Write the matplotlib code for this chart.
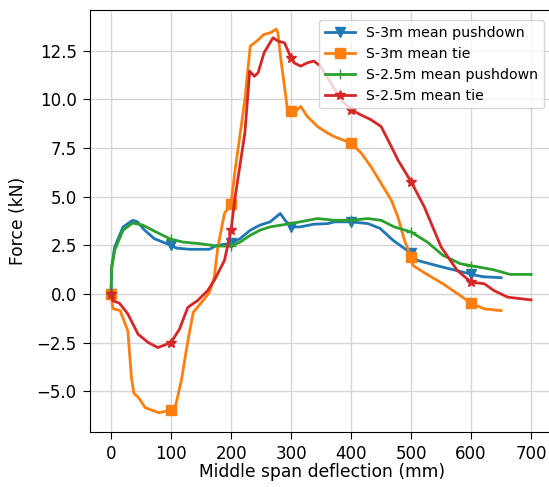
import matplotlib.pyplot as plt
import numpy as np

# S-3m mean pushdown
push3_x = [0, 1, 6, 20, 36, 44, 56, 72, 100, 109, 131, 164, 176, 190, 200, 215, 232, 248, 265,
           282, 290, 300, 315, 338, 361, 372, 400, 428, 448, 470, 493, 500, 510, 553, 598, 600, 620, 650]
push3_y = [0.0, 1.37, 2.4, 3.44, 3.78, 3.7, 3.27, 2.84, 2.49, 2.35, 2.29, 2.29, 2.49, 2.55, 2.6, 2.84,
           3.27, 3.53, 3.7, 4.13, 3.78, 3.44, 3.44, 3.58, 3.61, 3.7, 3.7, 3.61, 3.37, 2.75, 2.24, 2.1,
           1.72, 1.37, 1.03, 1.0, 0.88, 0.83]

# S-3m mean tie
tie3_x = [0, 3, 15, 28, 34, 38, 46, 57, 80, 100, 108, 117, 128, 137, 151, 164, 172, 178, 189, 200,
          206, 223, 232, 243, 255, 266, 275, 278, 283, 289, 294, 300, 305, 316, 327, 344, 361, 372,
          400, 417, 433, 450, 467, 478, 489, 500, 503, 525, 553, 582, 600, 622, 650]
tie3_y = [0.0, -0.76, -0.85, -1.9, -4.3, -5.1, -5.34, -5.85, -6.11, -5.96, -5.68, -4.48, -2.41, -0.95,
          -0.43, 0.08, 0.86, 2.41, 4.13, 4.61, 6.19, 9.98, 12.73, 12.99, 13.33, 13.42, 13.6, 13.42,
          12.04, 10.67, 9.46, 9.4, 9.3, 9.63, 9.12, 8.6, 8.26, 8.08, 7.74, 7.23, 6.54, 5.68, 4.82,
          3.95, 2.75, 1.89, 1.46, 1.03, 0.52, -0.09, -0.48, -0.77, -0.86]

# S-2.5m mean pushdown
push25_x = [0, 1, 6, 20, 36, 53, 75, 100, 120, 148, 176, 200, 215, 232, 248, 265, 298, 315, 344,
            372, 400, 428, 450, 472, 500, 527, 553, 582, 600, 637, 665, 700]
push25_y = [0.0, 1.3, 2.24, 3.27, 3.64, 3.53, 3.18, 2.8, 2.66, 2.58, 2.46, 2.45, 2.66, 3.01, 3.27,
            3.44, 3.61, 3.7, 3.87, 3.78, 3.78, 3.87, 3.78, 3.44, 3.18, 2.66, 1.98, 1.55, 1.45, 1.24,
            1.0, 1.0]

# S-2.5m mean tie
tie25_x = [0, 3, 14, 28, 45, 62, 78, 100, 114, 128, 144, 161, 172, 189, 200, 206, 223, 231, 239,
           245, 255, 270, 278, 289, 300, 305, 316, 327, 338, 349, 366, 383, 400, 416, 433, 450, 467,
           478, 500, 522, 550, 577, 600, 622, 638, 661, 700]
tie25_y = [0.0, -0.35, -0.48, -1.03, -2.07, -2.5, -2.76, -2.5, -1.81, -0.69, -0.35, 0.17, 0.69, 1.72,
           3.27, 4.82, 8.26, 11.44, 11.18, 11.36, 12.39, 13.16, 12.99, 12.9, 12.13, 11.87, 11.7,
           11.87, 11.96, 11.7, 10.84, 9.98, 9.46, 9.2, 8.95, 8.6, 7.57, 6.88, 5.76, 4.47, 2.41, 1.2,
           0.6, 0.52, 0.17, -0.17, -0.31]

series = [
    (push3_x, push3_y, "v", "S-3m mean pushdown"),
    (tie3_x, tie3_y, "s", "S-3m mean tie"),
    (push25_x, push25_y, "+", "S-2.5m mean pushdown"),
    (tie25_x, tie25_y, "*", "S-2.5m mean tie"),
]

plt.rcParams["font.size"] = 12
plt.rcParams["xtick.major.size"] = 5
plt.rcParams["ytick.major.size"] = 5
plt.rcParams["xtick.major.pad"] = 4.5
plt.rcParams["ytick.major.pad"] = 4.5

fig = plt.figure(figsize=(5.49, 4.87), dpi=100)
ax = fig.add_axes([0.164, 0.113, 0.845, 0.8665])

for xs, ys, marker, label in series:
    # one marker per 100 mm, up to 600 mm
    marks = [i for i, x in enumerate(xs) if x % 100 == 0 and x <= 600]
    ax.plot(xs, ys, marker=marker, markevery=marks, markersize=7, linewidth=2, label=label)

ax.set_xlim(-35, 738)
ax.set_xticks(np.arange(0, 701, 100))
ax.grid(True, color="#d5d5d5", linewidth=1)
ax.set_xlabel("Middle span deflection (mm)", fontsize=12.3, labelpad=0)
ax.set_ylabel("Force (kN)", fontsize=12.3, labelpad=7)
ax.legend(loc="upper right", fontsize=10.2, handlelength=2.1, borderaxespad=0.7)

fig.savefig("out.png", dpi=100)
